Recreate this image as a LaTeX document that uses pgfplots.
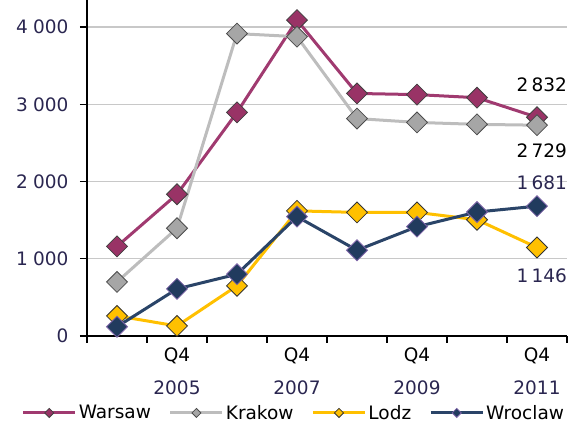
\documentclass[border=0pt]{standalone}
\usepackage{pgfplots}
\pgfplotsset{compat=1.18}
\usepackage{fontspec}
\setmainfont{DejaVu Sans}
\definecolor{warline}{HTML}{A03A70}
\definecolor{warfill}{HTML}{993366}
\definecolor{krkline}{HTML}{BDBDBD}
\definecolor{krkfill}{HTML}{A6A6A6}
\definecolor{lodline}{HTML}{FFC000}
\definecolor{wroline}{HTML}{2A4468}
\definecolor{wrofill}{HTML}{213B5E}
\definecolor{wroedge}{HTML}{7E64A8}
\definecolor{yearcol}{HTML}{2A2650}
\definecolor{gridcol}{HTML}{C8C8C8}

\pgfplotstableread{
x warsaw krakow lodz wroclaw
0 1160 700 260 120
1 1835 1395 130 610
2 2895 3915 650 800
3 4090 3875 1620 1545
4 3140 2815 1600 1110
5 3125 2765 1600 1415
6 3085 2740 1505 1605
7 2832 2729 1146 1681
}\datatable

\begin{document}
\begin{tikzpicture}
\path[use as bounding box] (-87pt,-94pt) rectangle (484pt,336pt);
\begin{axis}[
  scale only axis, width=480pt, height=336pt,
  xmin=-0.5, xmax=7.5, ymin=0, ymax=4350,
  axis x line*=bottom, axis y line*=left,
  axis line style={-, black, line width=1.3pt},
  xtick={-0.5,0.5,...,7.5}, xticklabels={},
  extra x ticks={1,3,5,7},
  extra x tick labels={{Q4\\\textcolor{yearcol}{2005}},{Q4\\\textcolor{yearcol}{2007}},{Q4\\\textcolor{yearcol}{2009}},{Q4\\\textcolor{yearcol}{2011}}},
  extra x tick style={major tick length=0pt, grid=none,
    tick label style={align=center, font=\fontsize{18.5}{33}\selectfont, yshift=-8pt}},
  ytick={0,1000,2000,3000,4000},
  ymajorgrids, grid style={line width=1.3pt, color=gridcol},
  tick align=outside, major tick length=7pt,
  tick style={black, line width=1.3pt},
  yticklabel style={font=\fontsize{18.5}{20}\selectfont, text=yearcol, xshift=-8pt},
  /pgf/number format/.cd, 1000 sep={\;}, assume math mode=true,
  /pgfplots/.cd,
  legend columns=4,
  legend style={at={(0.431,-0.229)}, anchor=center, draw=none, fill=none,
    font=\fontsize{18.5}{20}\selectfont,
    /tikz/every even column/.append style={column sep=16pt}},
  legend cell align=left,
  legend image code/.code={
    \draw[mark repeat=2, mark phase=2, #1, mark size=3.2pt]
      plot coordinates {(0pt,0pt) (26pt,0pt) (52pt,0pt)};
  },
  clip=false,
]
\addplot[warline, line width=3pt, mark=square*, mark size=7.4pt,
  mark options={rotate=45, fill=warfill, draw=black!75, line width=0.8pt}]
  table[x=x, y=warsaw] {\datatable};
\addlegendentry{Warsaw}
\addplot[krkline, line width=3pt, mark=square*, mark size=7.4pt,
  mark options={rotate=45, fill=krkfill, draw=black!70, line width=0.8pt}]
  table[x=x, y=krakow] {\datatable};
\addlegendentry{Krakow}
\addplot[lodline, line width=3pt, mark=square*, mark size=7.4pt,
  mark options={rotate=45, fill=lodline, draw=black!80, line width=0.8pt}]
  table[x=x, y=lodz] {\datatable};
\addlegendentry{Lodz}
\addplot[wroline, line width=3pt, mark=square*, mark size=7.4pt,
  mark options={rotate=45, fill=wrofill, draw=wroedge, line width=0.8pt}]
  table[x=x, y=wroclaw] {\datatable};
\addlegendentry{Wroclaw}

\node[font=\fontsize{18.5}{20}\selectfont, text=black] at ([yshift=32pt]axis cs:7.08,2832) {2\,832};
\node[font=\fontsize{18.5}{20}\selectfont, text=black] at ([yshift=-26pt]axis cs:7.08,2729) {2\,729};
\node[font=\fontsize{18.5}{20}\selectfont, text=yearcol] at ([yshift=23pt]axis cs:7.08,1681) {1\,681};
\node[font=\fontsize{18.5}{20}\selectfont, text=yearcol] at ([yshift=-28pt]axis cs:7.08,1146) {1\,146};
\end{axis}
\end{tikzpicture}
\end{document}
